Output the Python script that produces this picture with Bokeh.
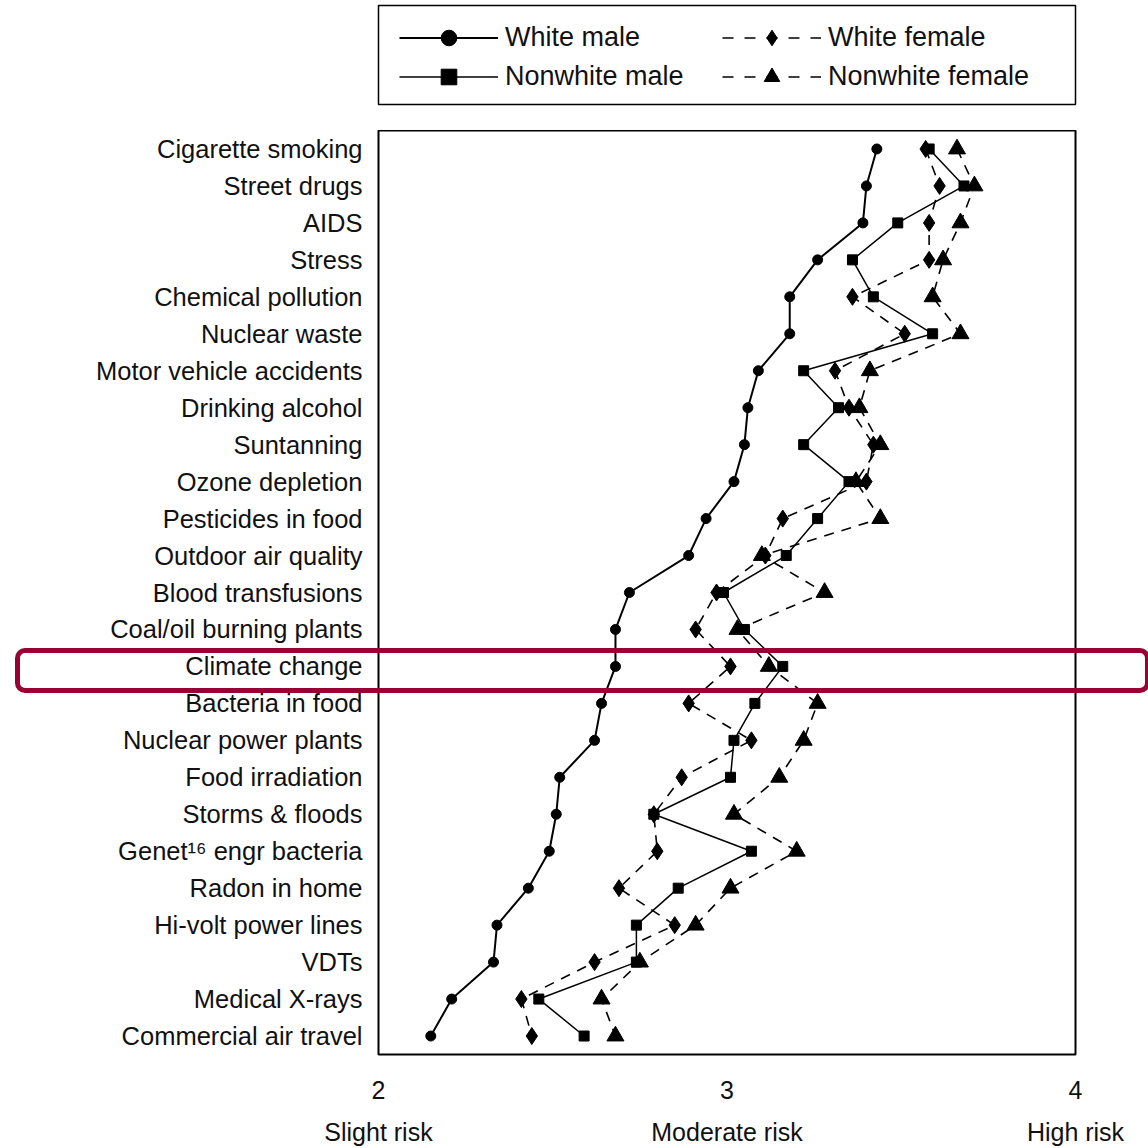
from bokeh.plotting import figure
from bokeh.layouts import column
from bokeh.models import (FactorRange, Range1d, LinearAxis, FixedTicker, Legend,
                          LegendItem, Div)
from bokeh.embed import file_html
from bokeh.resources import INLINE

# ---------------- data ----------------
categories = [
    "Cigarette smoking", "Street drugs", "AIDS", "Stress", "Chemical pollution",
    "Nuclear waste", "Motor vehicle accidents", "Drinking alcohol", "Suntanning",
    "Ozone depletion", "Pesticides in food", "Outdoor air quality",
    "Blood transfusions", "Coal/oil burning plants", "Climate change",
    "Bacteria in food", "Nuclear power plants", "Food irradiation",
    "Storms & floods", "Genet\u00b9\u2076 engr bacteria", "Radon in home",
    "Hi-volt power lines", "VDTs", "Medical X-rays", "Commercial air travel",
]

white_male = [3.43, 3.40, 3.39, 3.26, 3.18, 3.18, 3.09, 3.06, 3.05, 3.02,
              2.94, 2.89, 2.72, 2.68, 2.68, 2.64, 2.62, 2.52, 2.51, 2.49,
              2.43, 2.34, 2.33, 2.21, 2.15]
nonwhite_male = [3.58, 3.68, 3.49, 3.36, 3.42, 3.59, 3.22, 3.32, 3.22, 3.35,
                 3.26, 3.17, 2.99, 3.05, 3.16, 3.08, 3.02, 3.01, 2.79, 3.07,
                 2.86, 2.74, 2.74, 2.46, 2.59]
white_female = [3.57, 3.61, 3.58, 3.58, 3.36, 3.51, 3.31, 3.35, 3.42, 3.40,
                3.16, 3.11, 2.97, 2.91, 3.01, 2.89, 3.07, 2.87, 2.79, 2.80,
                2.69, 2.85, 2.62, 2.41, 2.44]
nonwhite_female = [3.66, 3.71, 3.67, 3.62, 3.59, 3.67, 3.41, 3.38, 3.44, 3.37,
                   3.44, 3.10, 3.28, 3.03, 3.12, 3.26, 3.22, 3.15, 3.02, 3.20,
                   3.01, 2.91, 2.75, 2.64, 2.68]

series_labels = ["White male", "Nonwhite male", "White female", "Nonwhite female"]
x_ticks = [2, 3, 4]
risk_labels = ["Slight risk", "Moderate risk", "High risk"]
highlighted = "Climate change"

# ---------------- styles ----------------
FONT = "Liberation Sans"
INK = "#111111"
FIG_W = 1140
LEG_H = 130
MAIN_H = 1018
FRAME_TOP = LEG_H
FRAME_H = 924

styles = [
    dict(marker="circle", size=10, line_width=2.0, line_dash="solid", legend_dash="solid"),
    dict(marker="square", size=10, line_width=1.5, line_dash="solid", legend_dash="solid"),
    dict(marker="diamond", size=17, line_width=1.6, line_dash="10 8", legend_dash="11 11"),
    dict(marker="triangle", size=17, line_width=1.6, line_dash="10 8", legend_dash="11 11"),
]

# ---------------- main plot ----------------
p = figure(width=FIG_W, height=MAIN_H, output_backend="svg", toolbar_location=None,
           x_range=Range1d(2, 4),
           y_range=FactorRange(factors=categories[::-1], range_padding=0, factor_padding=0),
           x_axis_location=None,
           min_border_left=377, min_border_top=0, min_border_right=65,
           min_border_bottom=94)

p.grid.visible = False
p.outline_line_color = "black"
p.outline_line_width = 2
p.background_fill_color = "white"
p.border_fill_color = "white"

yax = p.yaxis[0]
yax.axis_line_color = None
yax.major_tick_line_color = None
yax.minor_tick_line_color = None
yax.major_label_standoff = 10
yax.major_label_text_font = FONT
yax.major_label_text_font_size = "25.5px"
yax.major_label_text_color = INK


def make_xaxis(overrides, standoff):
    ax = LinearAxis(ticker=FixedTicker(ticks=x_ticks))
    ax.axis_line_color = None
    ax.major_tick_line_color = None
    ax.minor_tick_line_color = None
    ax.major_label_standoff = standoff
    ax.major_label_text_font = FONT
    ax.major_label_text_font_size = "25px"
    ax.major_label_text_color = INK
    if overrides:
        ax.major_label_overrides = overrides
    return ax


p.add_layout(make_xaxis(None, 20), "below")
p.add_layout(make_xaxis({t: lab for t, lab in zip(x_ticks, risk_labels)}, 10), "below")

all_series = [white_male, nonwhite_male, white_female, nonwhite_female]
for vals, st in zip(all_series, styles):
    p.line(vals, categories, line_color="black", line_width=st["line_width"],
           line_dash=st["line_dash"])
    p.scatter(vals, categories, marker=st["marker"], size=st["size"],
              fill_color="black", line_color="black")

# ---------------- legend panel (separate strip above the plot) ----------------
# Its ranges are kept away from the data, so the proxy renderers below only
# supply the legend samples and draw nothing inside this strip.
lg = figure(width=FIG_W, height=LEG_H, output_backend="svg", toolbar_location=None,
            x_range=Range1d(0, 1), y_range=Range1d(0, 1),
            x_axis_location=None, y_axis_location=None,
            min_border_left=378, min_border_right=FIG_W - 1076,
            min_border_top=5, min_border_bottom=LEG_H - 104)
lg.grid.visible = False
lg.outline_line_color = "black"
lg.outline_line_width = 1.5
lg.border_fill_color = "white"
lg.background_fill_color = "white"

items = []
for lab, vals, st in zip(series_labels, all_series, styles):
    ln = lg.line(vals, vals, line_color="black", line_width=st["line_width"],
                 line_dash=st["legend_dash"])
    mk = lg.scatter(vals, vals, marker=st["marker"], size=st["size"],
                    fill_color="black", line_color="black")
    items.append(LegendItem(label=lab, renderers=[ln, mk]))

legend = Legend(
    items=items, location=(21, 8), orientation="vertical", nrows=2,
    glyph_width=99, glyph_height=39, label_width=217, label_standoff=7,
    spacing=0, padding=0, margin=0,
    label_text_font=FONT, label_text_font_size="27px", label_text_color=INK,
    border_line_color=None, background_fill_alpha=0.0,
)
lg.add_layout(legend, "center")

# ---------------- highlight frame around one row (overlay) ----------------
row_h = FRAME_H / len(categories)
row_mid = FRAME_TOP + (categories.index(highlighted) + 0.5) * row_h
hl_top = round(row_mid - 0.62 * row_h)
hl_h = round(1.22 * row_h)
highlight = Div(text="", width=1135, height=hl_h, styles={
    "position": "absolute", "left": "10px", "top": f"{hl_top}px",
    "width": "1135px", "height": f"{hl_h}px", "box-sizing": "border-box",
    "border": "5px solid #990033", "border-radius": "10px",
    "pointer-events": "none", "background": "transparent", "z-index": "10",
})

layout = column(lg, p, highlight, spacing=0)
open("out.html", "w").write(file_html(layout, INLINE))
